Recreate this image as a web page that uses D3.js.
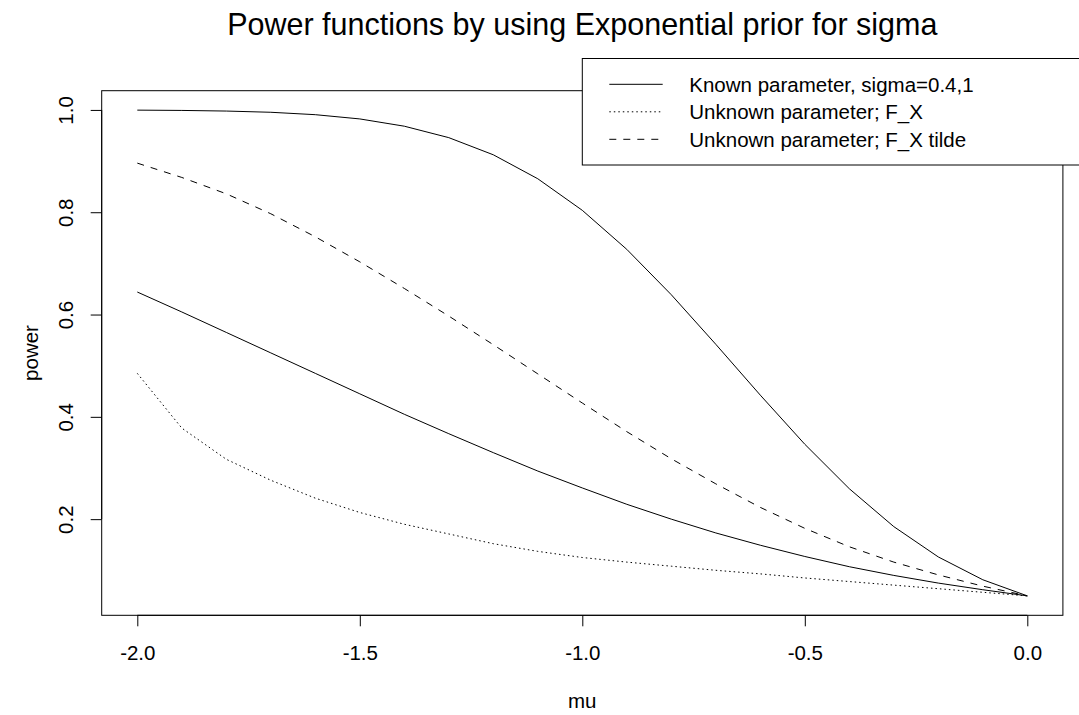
<!DOCTYPE html>
<html>
<head>
<meta charset="utf-8">
<script src="https://cdn.jsdelivr.net/npm/d3@7"></script>
<style>
  html, body { margin: 0; padding: 0; background: #fff; }
  svg { display: block; font-family: "Liberation Sans", Arial, Helvetica, sans-serif; }
</style>
</head>
<body>
<svg id="chart" width="1079" height="715"></svg>
<script>
// ---- data ----
const mu = [-2.0, -1.9, -1.8, -1.7, -1.6, -1.5, -1.4, -1.3, -1.2, -1.1, -1.0,
            -0.9, -0.8, -0.7, -0.6, -0.5, -0.4, -0.3, -0.2, -0.1, 0.0];
const knownSigma04 = [0.9996, 0.9990, 0.9978, 0.9954, 0.9907, 0.9824, 0.9682, 0.9458, 0.9123, 0.8654, 0.8037,
                      0.7274, 0.6387, 0.5418, 0.4424, 0.3464, 0.2595, 0.1854, 0.1261, 0.0815, 0.05];
const knownSigma1 = [0.644, 0.605, 0.565, 0.525, 0.485, 0.445, 0.405, 0.367, 0.330, 0.294, 0.261,
                     0.229, 0.200, 0.173, 0.149, 0.127, 0.107, 0.090, 0.075, 0.062, 0.05];
const unknownFX = [0.485, 0.378, 0.317, 0.276, 0.241, 0.213, 0.190, 0.171, 0.152, 0.137, 0.125,
                   0.116, 0.108, 0.100, 0.093, 0.085, 0.078, 0.071, 0.064, 0.057, 0.05];
const unknownFXtilde = [0.896, 0.868, 0.836, 0.797, 0.752, 0.703, 0.651, 0.597, 0.541, 0.484, 0.427,
                        0.371, 0.318, 0.269, 0.223, 0.182, 0.146, 0.116, 0.091, 0.069, 0.05];
const xTicks = [-2.0, -1.5, -1.0, -0.5, 0.0];
const xTickLabels = ["-2.0", "-1.5", "-1.0", "-0.5", "0.0"];
const yTicks = [0.2, 0.4, 0.6, 0.8, 1.0];
const yTickLabels = ["0.2", "0.4", "0.6", "0.8", "1.0"];
const legendLabels = ["Known parameter, sigma=0.4,1", "Unknown parameter; F_X", "Unknown parameter; F_X tilde"];
const legendDash = ["none", "1.5,3", "7,7"];
const titleText = "Power functions by using Exponential prior for sigma";
const xLabel = "mu";
const yLabel = "power";

// ---- layout ----
const plot = { left: 101.7, right: 1062.9, top: 90.7, bottom: 615.3 };
const svg = d3.select("#chart");

// R-style 4% padding on data range
const xExt = d3.extent(mu), xPad = (xExt[1] - xExt[0]) * 0.04;
const allY = knownSigma04.concat(knownSigma1, unknownFX, unknownFXtilde);
const yExt = d3.extent(allY), yPad = (yExt[1] - yExt[0]) * 0.04;

const x = d3.scaleLinear().domain([xExt[0] - xPad, xExt[1] + xPad]).range([plot.left, plot.right]);
const y = d3.scaleLinear().domain([yExt[0] - yPad, yExt[1] + yPad]).range([plot.bottom, plot.top]);

// title
svg.append("text")
  .attr("x", (plot.left + plot.right) / 2).attr("y", 35)
  .attr("text-anchor", "middle")
  .attr("font-size", 30.5)
  .text(titleText);

// axes
const xAxis = d3.axisBottom(x).tickValues(xTicks).tickSize(11).tickPadding(0)
  .tickFormat((d, i) => xTickLabels[i]);
const gx = svg.append("g").attr("transform", `translate(0,${plot.bottom})`).call(xAxis);
gx.select(".domain").attr("d", `M${x(xTicks[0])},0H${x(xTicks[xTicks.length - 1])}`).attr("stroke", "#000");
gx.selectAll(".tick line").attr("stroke", "#000");
gx.selectAll(".tick text").attr("font-size", 20.5).attr("font-family", "Liberation Sans, Arial, sans-serif")
  .attr("fill", "#000").attr("dy", null).attr("y", 45);

const yAxis = d3.axisLeft(y).tickValues(yTicks).tickSize(11).tickPadding(0)
  .tickFormat((d, i) => yTickLabels[i]);
const gy = svg.append("g").attr("transform", `translate(${plot.left},0)`).call(yAxis);
gy.select(".domain").attr("d", `M0,${y(yTicks[0])}V${y(yTicks[yTicks.length - 1])}`).attr("stroke", "#000");
gy.selectAll(".tick line").attr("stroke", "#000");
gy.selectAll(".tick text").attr("font-size", 20.5).attr("font-family", "Liberation Sans, Arial, sans-serif")
  .attr("fill", "#000")
  .attr("x", null).attr("dy", null)
  .attr("text-anchor", "middle")
  .attr("transform", "translate(-29,0) rotate(-90)")
  .attr("y", 0);

// box
svg.append("rect")
  .attr("x", plot.left).attr("y", plot.top)
  .attr("width", plot.right - plot.left).attr("height", plot.bottom - plot.top)
  .attr("fill", "none").attr("stroke", "#000").attr("stroke-width", 1);

// axis titles
svg.append("text")
  .attr("x", (plot.left + plot.right) / 2).attr("y", 708)
  .attr("text-anchor", "middle").attr("font-size", 20.5)
  .text(xLabel);
svg.append("text")
  .attr("transform", `translate(38,${(plot.top + plot.bottom) / 2}) rotate(-90)`)
  .attr("text-anchor", "middle").attr("font-size", 20.5)
  .text(yLabel);

// lines
const series = [
  { values: knownSigma04, dash: legendDash[0] },
  { values: knownSigma1, dash: legendDash[0] },
  { values: unknownFX, dash: legendDash[1] },
  { values: unknownFXtilde, dash: legendDash[2] }
];
const line = d3.line().x(d => x(d[0])).y(d => y(d[1]));
const clip = svg.append("clipPath").attr("id", "clip").append("rect")
  .attr("x", plot.left).attr("y", plot.top).attr("width", plot.right - plot.left).attr("height", plot.bottom - plot.top);
svg.append("g").attr("clip-path", "url(#clip)")
  .selectAll("path").data(series).join("path")
  .attr("d", s => line(mu.map((m, i) => [m, s.values[i]])))
  .attr("fill", "none").attr("stroke", "#000").attr("stroke-width", 1)
  .attr("stroke-dasharray", s => s.dash);

// legend
const leg = { left: 582.3, top: 58.5, bottom: 165, right: 1090 };
svg.append("rect")
  .attr("x", leg.left).attr("y", leg.top)
  .attr("width", leg.right - leg.left).attr("height", leg.bottom - leg.top)
  .attr("fill", "#fff").attr("stroke", "#000").attr("stroke-width", 1);
const rowY = [84.3, 111.8, 139.3];
const lg = svg.append("g");
legendLabels.forEach((lab, i) => {
  lg.append("line")
    .attr("x1", 609.3).attr("x2", 662.7).attr("y1", rowY[i]).attr("y2", rowY[i])
    .attr("stroke", "#000").attr("stroke-width", 1).attr("stroke-dasharray", legendDash[i]);
  lg.append("text")
    .attr("x", 689.3).attr("y", rowY[i]).attr("dy", "0.36em")
    .attr("font-size", 20.5).text(lab);
});
</script>
</body>
</html>
